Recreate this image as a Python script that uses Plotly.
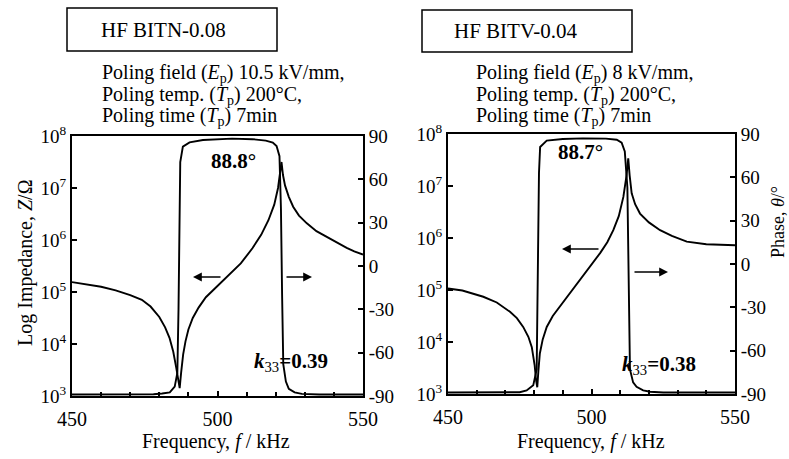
import plotly.graph_objects as go

W, H = 789, 459
FONT = "Liberation Serif, Times New Roman, Times, serif"

# ---------------- data ----------------
# Left panel: HF BITN-0.08
freq_l_z = [450, 455, 460, 465, 470, 474, 477, 480, 482, 483.5, 484.8, 485.8, 486.5, 487.0,
            487.5, 488.2, 489, 490, 491.5, 493.5, 496, 500, 504, 508, 512, 515, 517.5, 519.5,
            520.8, 521.6, 522.0, 522.5, 523.2, 524.5, 526, 528, 530.7, 534, 537.5, 541, 544.4,
            547, 550]
logz_l = [5.19, 5.15, 5.10, 5.03, 4.94, 4.85, 4.72, 4.52, 4.32, 4.12, 3.85, 3.55, 3.30, 3.15,
          3.45, 3.80, 4.05, 4.28, 4.50, 4.70, 4.90, 5.12, 5.33, 5.55, 5.84, 6.10, 6.38, 6.68,
          7.00, 7.30, 7.50, 7.25, 7.05, 6.83, 6.64, 6.47, 6.32, 6.17, 6.06, 5.95, 5.85,
          5.78, 5.72]
freq_l_p = [450, 470, 478, 481, 483.6, 485.3, 486.2, 486.6, 486.9, 487.2, 488.1, 490.4, 495,
            505, 512, 516.6, 519, 520.3, 521.3, 521.8, 522.2, 522.6, 523.5, 524.5, 526.5, 529,
            535, 550]
phase_l = [-89, -89, -88.8, -88.3, -87.5, -83.5, -74, -30, 30, 72, 82.6, 85.6, 87.2,
           88.2, 87.8, 86.8, 85.5, 83, 76, 40, -20, -68, -80, -85, -87.5, -88.5,
           -89, -89]

# Right panel: HF BITV-0.04
freq_r_z = [450, 455, 462.3, 467, 471.6, 474, 476.2, 478, 479.2, 480.2, 480.7, 481.1, 481.5,
            482, 483, 484.4, 486.5, 489, 492.5, 496, 499.5, 503, 505.5, 507.6, 509.5, 511.1,
            512.2, 512.8, 513.3, 514, 515.2, 516.9, 520, 523.9, 528, 533.2, 540, 549.4, 550]
logz_r = [5.03, 4.99, 4.87, 4.76, 4.58, 4.46, 4.29, 4.10, 3.90, 3.55, 3.26, 3.13, 3.45,
          3.78, 4.05, 4.29, 4.50, 4.68, 4.93, 5.19, 5.45, 5.71, 5.92, 6.15, 6.42, 6.79,
          7.20, 7.53, 7.20, 6.86, 6.65, 6.47, 6.30, 6.15, 6.04, 5.93, 5.88, 5.86, 5.86]
freq_r_p = [450, 475, 477.4, 479.7, 480.9, 481.2, 481.5, 481.7, 482.1, 484.4, 490, 497, 505,
            508.8, 510.5, 511.6, 512.5, 513.0, 513.4, 514.5, 515.7, 518, 520.4, 525, 550]
phase_r = [-89, -88.8, -87.5, -84, -73, -20, 40, 63, 81, 85.4, 86.5, 87, 86.8,
           86, 84, 78, 53, -20, -73, -82, -85, -87.5, -88.4, -89, -89]

z_tickvals = [1e3, 1e4, 1e5, 1e6, 1e7, 1e8]
z_ticktext = ["10<sup>3</sup>", "10<sup>4</sup>", "10<sup>5</sup>", "10<sup>6</sup>",
              "10<sup>7</sup>", "10<sup>8</sup>"]
p_tickvals = [-90, -60, -30, 0, 30, 60, 90]
p_ticktext = ["-90", "-60", "-30", "0", "30", "60", "90"]
x_tickvals = [450, 500, 550]
x_ticktext = ["450", "500", "550"]

panel_titles = ["HF BITN-0.08", "HF BITV-0.04"]
poling_lines = [
    ["Poling field (<i>E</i><sub>p</sub>) 10.5 kV/mm,",
     "Poling temp. (<i>T</i><sub>p</sub>) 200°C,",
     "Poling time (<i>T</i><sub>p</sub>) 7min"],
    ["Poling field (<i>E</i><sub>p</sub>) 8 kV/mm,",
     "Poling temp. (<i>T</i><sub>p</sub>) 200°C,",
     "Poling time (<i>T</i><sub>p</sub>) 7min"],
]
max_phase_labels = ["88.8°", "88.7°"]
k33_labels = ["<b><i>k</i></b><sub>33</sub><b>=0.39</b>", "<b><i>k</i></b><sub>33</sub><b>=0.38</b>"]

# ---------------- figure ----------------
def px(x):
    return x / W

def py(y):
    return 1 - y / H

fig = go.Figure()
line = dict(color="black", width=1.9)
fig.add_trace(go.Scatter(x=freq_l_z, y=[10 ** v for v in logz_l], mode="lines", line=line,
                         xaxis="x", yaxis="y", showlegend=False))
fig.add_trace(go.Scatter(x=freq_l_p, y=phase_l, mode="lines", line=line,
                         xaxis="x", yaxis="y2", showlegend=False))
fig.add_trace(go.Scatter(x=freq_r_z, y=[10 ** v for v in logz_r], mode="lines", line=line,
                         xaxis="x2", yaxis="y3", showlegend=False))
fig.add_trace(go.Scatter(x=freq_r_p, y=phase_r, mode="lines", line=line,
                         xaxis="x2", yaxis="y4", showlegend=False))

dom_x = [[px(72), px(363)], [px(448), px(735)]]
dom_y = [[py(396), py(136)], [py(394), py(134)]]

axline = dict(showline=True, linecolor="black", linewidth=2, showgrid=False, zeroline=False,
              ticks="inside", tickcolor="black", tickwidth=1.5, automargin=False)

def xaxis(i, anchor):
    return dict(domain=dom_x[i], range=[450, 550], anchor=anchor, mirror=True,
                tickvals=x_tickvals, ticktext=x_ticktext, ticklen=5,
                minor=dict(dtick=10, ticks="inside", ticklen=4, tickcolor="black"),
                tickfont=dict(family=FONT, size=20, color="black"),
                ticklabelstandoff=4, **axline)

def zaxis(i, anchor):
    return dict(domain=dom_y[i], type="log", range=[3, 8], anchor=anchor,
                tickvals=z_tickvals, ticktext=z_ticktext, ticklen=5,
                tickfont=dict(family=FONT, size=19, color="black"), **axline)

def paxis(i, anchor, overlay):
    return dict(domain=dom_y[i], range=[-90, 90], anchor=anchor, overlaying=overlay,
                side="right", tickvals=p_tickvals, ticktext=p_ticktext, ticklen=5,
                tickfont=dict(family=FONT, size=19, color="black"), **axline)

fig.update_layout(
    width=W, height=H,
    margin=dict(l=0, r=0, t=0, b=0),
    paper_bgcolor="white", plot_bgcolor="white",
    font=dict(family=FONT, color="black"),
    xaxis=xaxis(0, "y"),
    yaxis=zaxis(0, "x"),
    yaxis2=paxis(0, "x", "y"),
    xaxis2=xaxis(1, "y3"),
    yaxis3=zaxis(1, "x2"),
    yaxis4=paxis(1, "x2", "y3"),
)

ann = []
shapes = []
# Title boxes
boxes = [(67, 8, 277, 51, 99), (422, 10, 632, 52, 452)]
for i, (x0, y0, x1, y1, tx) in enumerate(boxes):
    shapes.append(dict(type="rect", xref="paper", yref="paper", x0=px(x0), x1=px(x1),
                       y0=py(y1), y1=py(y0), line=dict(color="black", width=1.5)))
    ann.append(dict(text=panel_titles[i], x=px(tx), y=py((y0 + y1) / 2), xref="paper",
                    yref="paper", xanchor="left", yanchor="middle", showarrow=False,
                    font=dict(family=FONT, size=21, color="black")))

# Poling conditions
pol_x = [100, 474]
pol_y = [73, 95, 117]
for i in range(2):
    for j, t in enumerate(poling_lines[i]):
        ann.append(dict(text=t, x=px(pol_x[i]), y=py(pol_y[j]), xref="paper", yref="paper",
                        xanchor="left", yanchor="middle", showarrow=False,
                        font=dict(family=FONT, size=20, color="black")))

# Max phase labels and k33 labels
mp_pos = [(234, 161), (580, 152)]
k_pos = [(252, 362), (620, 365)]
for i in range(2):
    ann.append(dict(text="<b>" + max_phase_labels[i] + "</b>", x=px(mp_pos[i][0]),
                    y=py(mp_pos[i][1]), xref="paper", yref="paper", xanchor="center",
                    yanchor="middle", showarrow=False,
                    font=dict(family=FONT, size=21, color="black")))
    ann.append(dict(text=k33_labels[i], x=px(k_pos[i][0]), y=py(k_pos[i][1]), xref="paper",
                    yref="paper", xanchor="left", yanchor="middle", showarrow=False,
                    font=dict(family=FONT, size=21, color="black")))

# Arrows (head x, head y, tail x, tail y)
arrows = [(193, 277, 222, 277), (312, 277, 285, 277), (562, 249, 600, 249), (668, 272, 633, 272)]
for hx, hy, tx, ty in arrows:
    ann.append(dict(text="", x=px(hx), y=py(hy), xref="paper", yref="paper",
                    ax=tx - hx, ay=ty - hy, showarrow=True, arrowhead=2, arrowsize=1.1,
                    arrowwidth=1.6, arrowcolor="black"))

# Axis titles
for cx in [216, 591]:
    ann.append(dict(text="Frequency, <i>f</i> / kHz", x=px(cx), y=py(441), xref="paper",
                    yref="paper", xanchor="center", yanchor="middle", showarrow=False,
                    font=dict(family=FONT, size=20, color="black")))
ann.append(dict(text="Log Impedance, <i>Z</i>/Ω", x=px(25), y=py(263), xref="paper",
                yref="paper", xanchor="center", yanchor="middle", textangle=-90,
                showarrow=False, font=dict(family=FONT, size=20, color="black")))
ann.append(dict(text="Phase, <i>θ</i>/°", x=px(778), y=py(222), xref="paper",
                yref="paper", xanchor="center", yanchor="middle", textangle=-90,
                showarrow=False, font=dict(family=FONT, size=18, color="black")))

fig.update_layout(annotations=ann, shapes=shapes)
fig.write_html("out.html")
